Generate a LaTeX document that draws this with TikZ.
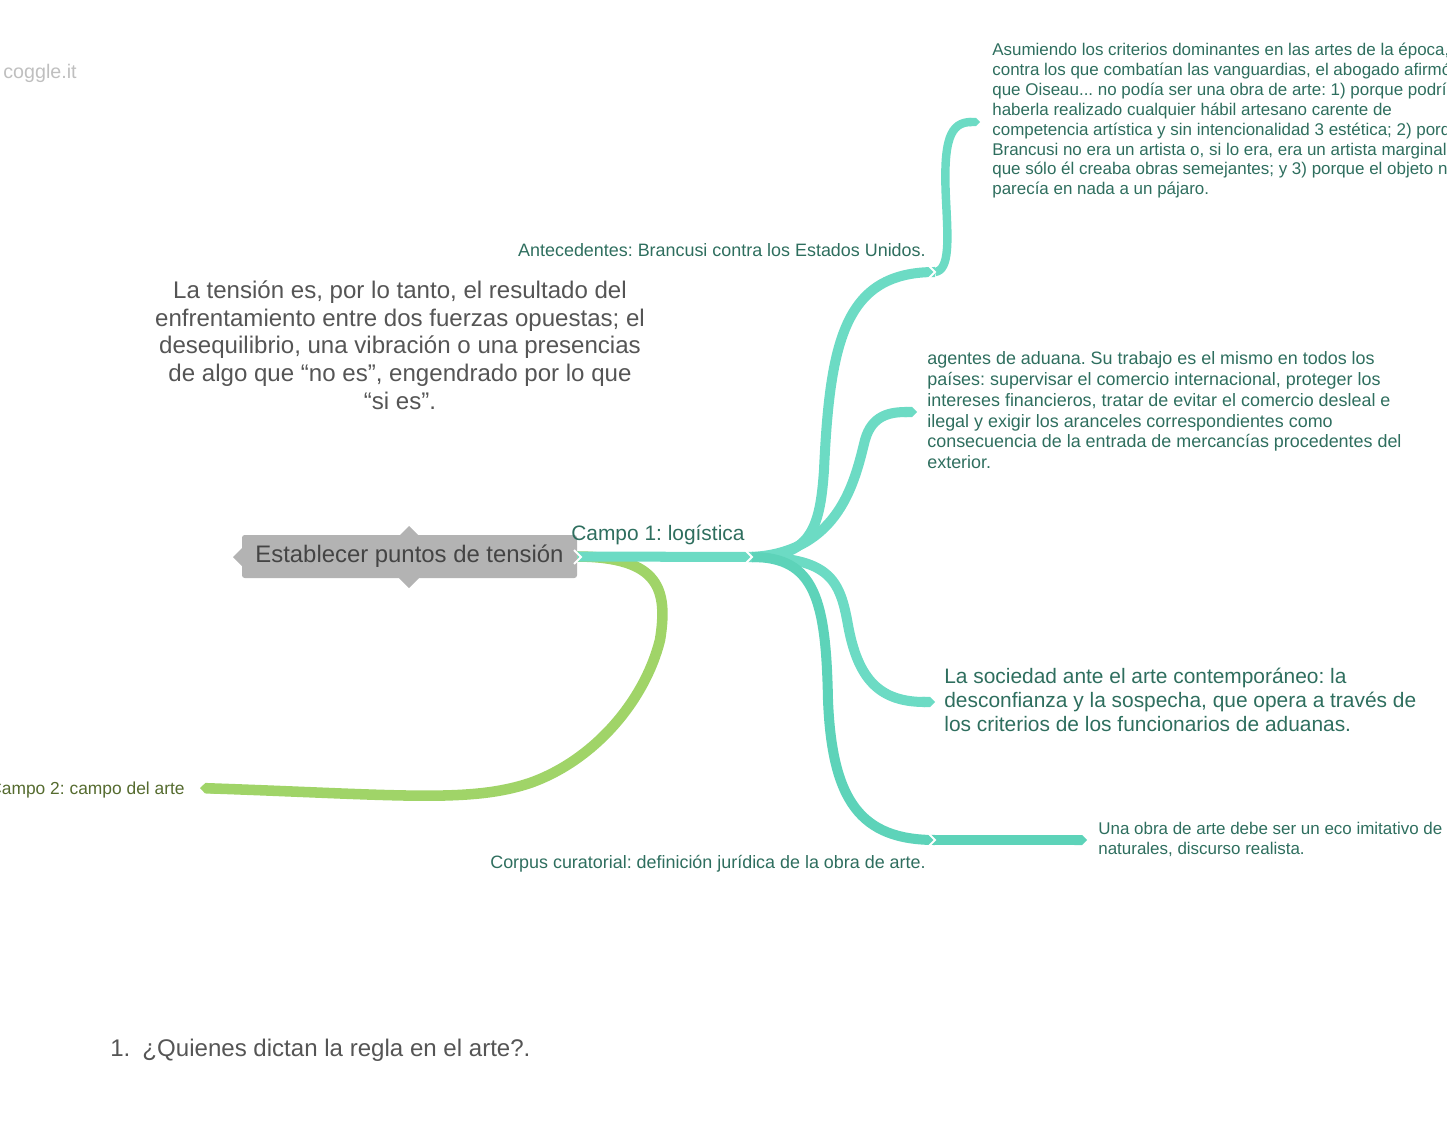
\documentclass[tikz,border=0pt]{standalone}
\usepackage{fontspec}
\setmainfont{Liberation Sans}
\usetikzlibrary{arrows.meta}
\definecolor{tealA}{HTML}{6CDBC4}
\definecolor{tealB}{HTML}{5DD3B9}
\definecolor{tealtxt}{HTML}{2E6E5E}
\definecolor{greenA}{HTML}{A0D468}
\definecolor{olivetxt}{HTML}{556B2F}
\definecolor{rootgray}{HTML}{B3B3B3}
\definecolor{darktxt}{HTML}{444444}
\definecolor{paratxt}{HTML}{555555}
\frenchspacing

\begin{document}
\begin{tikzpicture}[x=0.02cm,y=-0.02cm,
  branch/.style={line width=5.7pt,line cap=butt,color=tealA},
  tipped/.style={-{Triangle Cap}},
  notch/.style={draw=white,line width=1.1pt},
  lbl/.style={inner sep=0pt,text=tealtxt,align=left},
  small/.style={font=\fontsize{9.65pt}{11.3pt}\selectfont},
  mid/.style={font=\fontsize{10.2pt}{11.9pt}\selectfont}]
\useasboundingbox (0,0) rectangle (1447,1132);
\clip (0,0) rectangle (1447,1132);
\node[inner sep=0pt,anchor=base west,text=black!25,font=\fontsize{11.2pt}{13pt}\selectfont] (logo) at (3,79) {coggle.it};
\node[inner sep=0pt,anchor=north,text=paratxt,align=center,font=\fontsize{13.7pt}{15.9pt}\selectfont] (para) at (400,280) {La tensión es, por lo tanto, el resultado del\\enfrentamiento entre dos fuerzas opuestas; el\\desequilibrio, una vibración o una presencias\\de algo que “no es”, engendrado por lo que\\“si es”.};
% central topic
\fill[rootgray] (409,526) -- (419,536) -- (399,536) -- cycle (409,588) -- (419,578) -- (399,578) -- cycle (233,557) -- (243,547) -- (243,567) -- cycle;
\node[fill=rootgray,rounded corners=1.5pt,minimum width=335*0.02cm,minimum height=43*0.02cm,text=darktxt,font=\fontsize{13.6pt}{15pt}\selectfont] (root) at (409.5,556.5) {Establecer puntos de tensión};
\coordinate (c1) at (752,557);
\coordinate (ant) at (935,272);
\coordinate (asu) at (980,122);
\coordinate (age) at (917,412);
\coordinate (soc) at (935,702);
\coordinate (cor) at (935,840);
\coordinate (una) at (1087,840);
\coordinate (c2) at (200,788);
% campo 2
\draw[branch,tipped,color=greenA,line width=6pt] (root.east) .. controls (660,557) and (668,590) .. (660,640) .. controls (645,700) and (595,760) .. (530,783) .. controls (470,803) and (400,795) .. (c2);
% campo 1
\draw[branch] (root.east) -- (c1);
\draw[branch] (c1) .. controls (810,557) and (820,530) .. (824,470) .. controls (830,340) and (845,272) .. (ant);
\draw[branch,tipped,line width=4.8pt] (ant) .. controls (950,270) and (948,240) .. (946,200) .. controls (943,140) and (950,122) .. (asu);
\draw[branch,tipped] (c1) .. controls (840,552) and (855,480) .. (865,440) .. controls (872,415) and (890,412) .. (age);
\draw[branch,tipped] (c1) .. controls (830,557) and (840,580) .. (848,625) .. controls (858,680) and (880,702) .. (soc);
\draw[branch,color=tealB] (c1) .. controls (815,557) and (826,600) .. (828,700) .. controls (832,800) and (860,840) .. (cor);
\draw[branch,tipped,color=tealB] (cor) -- (una);
\draw[notch] (574,550) -- (581,557) -- (574,564);
\draw[notch] (745,550) -- (752,557) -- (745,564);
\draw[notch] (928,265) -- (935,272) -- (928,279);
\draw[notch] (928,833) -- (935,840) -- (928,847);
% labels
\node[lbl,anchor=base west,font=\fontsize{11.9pt}{13pt}\selectfont] (campo1) at (571,540) {Campo 1: logística};
\node[lbl,mid,anchor=base east] (antLbl) at (926,256) {Antecedentes: Brancusi contra los Estados Unidos.};
\node[lbl,small,anchor=north west] (asuLbl) at (992,43) {Asumiendo los criterios dominantes en las artes de la época,\\contra los que combatían las vanguardias, el abogado afirmó\\que Oiseau... no podía ser una obra de arte: 1) porque podría\\haberla realizado cualquier hábil artesano carente de\\competencia artística y sin intencionalidad 3 estética; 2) porque\\Brancusi no era un artista o, si lo era, era un artista marginal,\\que sólo él creaba obras semejantes; y 3) porque el objeto no\\parecía en nada a un pájaro.};
\node[lbl,mid,anchor=north west] (ageLbl) at (927,351) {agentes de aduana. Su trabajo es el mismo en todos los\\países: supervisar el comercio internacional, proteger los\\intereses financieros, tratar de evitar el comercio desleal e\\ilegal y exigir los aranceles correspondientes como\\consecuencia de la entrada de mercancías procedentes del\\exterior.};
\node[lbl,anchor=north west,font=\fontsize{11.9pt}{13.6pt}\selectfont] (socLbl) at (944,668) {La sociedad ante el arte contemporáneo: la\\desconfianza y la sospecha, que opera a través de\\los criterios de los funcionarios de aduanas.};
\node[lbl,small,anchor=north west] (unaLbl) at (1098,822) {Una obra de arte debe ser un eco imitativo de\\naturales, discurso realista.};
\node[lbl,mid,anchor=base east] (corLbl) at (926,868) {Corpus curatorial: definición jurídica de la obra de arte.};
\node[inner sep=0pt,anchor=base east,text=olivetxt,font=\fontsize{9.9pt}{11pt}\selectfont] (c2Lbl) at (185,794) {Campo 2: campo del arte};
\node[inner sep=0pt,anchor=base west,text=paratxt,font=\fontsize{13.7pt}{15pt}\selectfont] (quest) at (110,1056) {1.\hspace{0.5em}¿Quienes dictan la regla en el arte?.};
\end{tikzpicture}
\end{document}
